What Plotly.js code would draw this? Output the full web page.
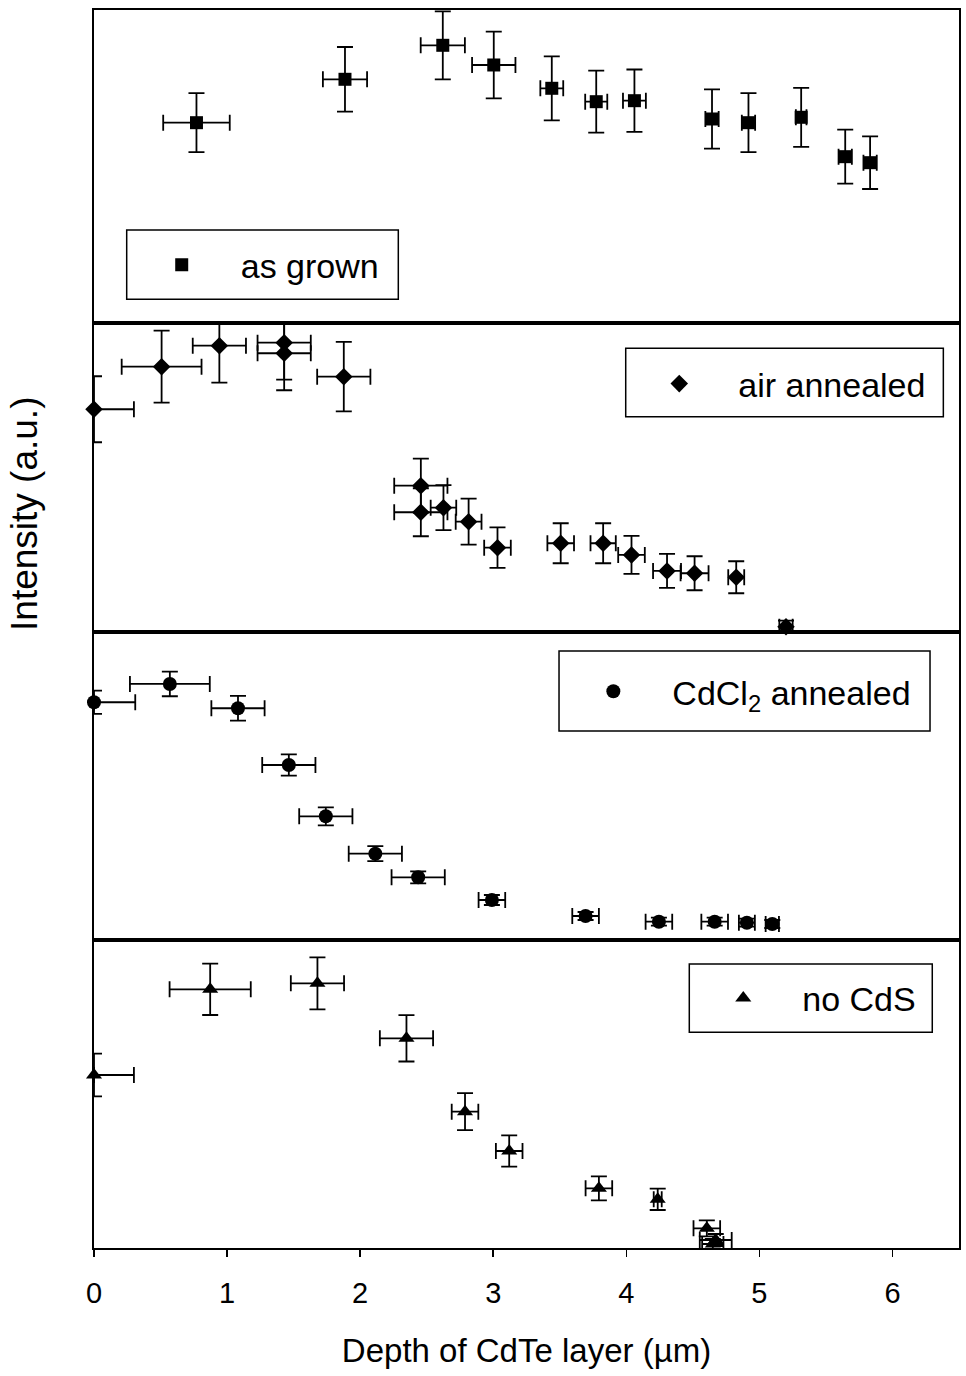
<!DOCTYPE html>
<html>
<head>
<meta charset="utf-8">
<script src="https://cdn.plot.ly/plotly-3.0.1.min.js"></script>
<style>html,body{margin:0;padding:0;background:#fff;}#chart{width:966px;height:1376px;}</style>
</head>
<body>
<div id="chart"></div>
<script>
// ---- data (intensity in arbitrary units) ----
const depthAsGrown   = [0.77, 1.886, 2.621, 3.004, 3.44, 3.774, 4.061, 4.644, 4.918, 5.314, 5.645, 5.832];
const intAsGrown     = [200.3, 243.7, 277.7, 258.0, 234.7, 221.3, 222.3, 204.0, 200.3, 205.7, 166.3, 160.3];
const errIntAsGrown  = [29.5, 32.3, 34, 33.3, 32, 31, 31.2, 29.7, 29.5, 29.5, 27, 26.3];
const errDepthAsGrown= [0.25, 0.166, 0.166, 0.163, 0.086, 0.083, 0.086, 0.05, 0.05, 0.04, 0.05, 0.05];

const depthAir   = [0.0, 0.508, 0.942, 1.429, 1.429, 1.877, 2.456, 2.456, 2.626, 2.815, 3.032, 3.507, 3.826, 4.039, 4.306, 4.513, 4.826, 5.2];
const intAir     = [222.7, 265.3, 286.3, 289.3, 278.7, 255.3, 146.3, 119.7, 124.3, 110.3, 84.3, 88.7, 88.7, 77.0, 61.0, 58.7, 54.7, 5.3];
const errIntAir  = [33, 36, 37, 37, 37, 34.7, 27, 24, 22.5, 23, 20.3, 20, 20, 19, 17, 17, 16, 6];
const errDepthAir= [0.3, 0.3, 0.2, 0.2, 0.2, 0.2, 0.2, 0.2, 0.096, 0.097, 0.1, 0.1, 0.095, 0.1, 0.105, 0.105, 0.06, 0.05];

const depthCdCl2   = [0.0, 0.57, 1.082, 1.464, 1.742, 2.114, 2.436, 2.99, 3.694, 4.245, 4.664, 4.906, 5.097];
const intCdCl2     = [237.7, 256.0, 231.7, 175.0, 123.7, 86.3, 62.7, 40.0, 24.0, 18.3, 18.3, 17.3, 16.0];
const errIntCdCl2  = [11.7, 12.3, 12.3, 10.7, 9, 7.5, 6, 5, 4, 4, 4, 4, 4];
const errDepthCdCl2= [0.31, 0.3, 0.2, 0.2, 0.2, 0.2, 0.2, 0.1, 0.1, 0.1, 0.1, 0.06, 0.05];

const depthNoCdS   = [0.0, 0.873, 1.679, 2.348, 2.788, 3.12, 3.794, 4.236, 4.605, 4.672, 4.65];
const intNoCdS     = [173.0, 258.7, 264.7, 209.7, 136.3, 97.0, 59.7, 48.7, 19.7, 8.0, 4.0];
const errIntNoCdS  = [21.3, 25.7, 26, 23.2, 18.5, 15.7, 12, 10.7, 8, 6, 5];
const errDepthNoCdS= [0.3, 0.305, 0.2, 0.2, 0.1, 0.1, 0.1, 0.03, 0.1, 0.12, 0.08];

const seriesNames = ['as grown', 'air annealed', 'CdCl<sub>2</sub> annealed', 'no CdS'];
const xTickVals = [0, 1, 2, 3, 4, 5, 6];
const xTickText = ['0', '1', '2', '3', '4', '5', '6'];

// ---- chart ----
const FONT = 'Liberation Sans, Arial, Helvetica, sans-serif';
function series(x, y, ey, ex, name, symbol, size, axisNum) {
  const minus = x.map((v, i) => Math.min(ex[i], v)); // depth cannot be negative
  const sfx = axisNum === 1 ? '' : String(axisNum);
  return {
    type: 'scatter', mode: 'markers', name: name, x: x, y: y,
    xaxis: 'x' + sfx, yaxis: 'y' + sfx, legend: 'legend' + sfx,
    showlegend: true, cliponaxis: false,
    marker: {symbol: symbol, size: size, color: '#000'},
    error_y: {type: 'data', array: ey, color: '#000', thickness: 1.8, width: 8},
    error_x: {type: 'data', symmetric: false, array: ex, arrayminus: minus, color: '#000', thickness: 1.8, width: 8}
  };
}
const data = [
  series(depthAsGrown, intAsGrown, errIntAsGrown, errDepthAsGrown, seriesNames[0], 'square', 13, 1),
  series(depthAir, intAir, errIntAir, errDepthAir, seriesNames[1], 'diamond', 13.5, 2),
  series(depthCdCl2, intCdCl2, errIntCdCl2, errDepthCdCl2, seriesNames[2], 'circle', 14, 3),
  series(depthNoCdS, intNoCdS, errIntNoCdS, errDepthNoCdS, seriesNames[3], 'triangle-up', 14, 4)
];

function xAx(showTicks) {
  const a = {range: [0, 6.5], showline: true, mirror: true, linecolor: '#000', linewidth: 1.6,
    showgrid: false, zeroline: false, fixedrange: true};
  if (showTicks) {
    Object.assign(a, {ticks: 'outside', ticklen: 7, tickwidth: 1.5, tickcolor: '#000',
      tickmode: 'array', tickvals: xTickVals, ticktext: xTickText, ticklabelstandoff: 12,
      tickfont: {family: FONT, size: 29, color: '#000'},
      title: {text: 'Depth of CdTe layer (µm)', font: {family: FONT, size: 33, color: '#000'}, standoff: 30}});
  } else {
    Object.assign(a, {ticks: '', showticklabels: false});
  }
  return a;
}
function yAx(domain, top, anchor) {
  return {domain: domain, range: [0, top], anchor: anchor, showline: true, mirror: true, linecolor: '#000',
    linewidth: 1.6, showgrid: false, zeroline: false, ticks: '', showticklabels: false, fixedrange: true};
}
function leg(x, y) {
  return {x: x, y: y, xanchor: 'left', yanchor: 'middle', bgcolor: 'rgba(0,0,0,0)', borderwidth: 0,
    itemwidth: 108, font: {family: FONT, size: 34, color: '#000'}};
}
function box(x0, x1, y0, y1) {
  return {type: 'rect', xref: 'paper', yref: 'paper', x0: x0, x1: x1, y0: y0, y1: y1,
    line: {color: '#000', width: 1.5}, fillcolor: 'rgba(0,0,0,0)', layer: 'above'};
}

const layout = {
  width: 966, height: 1376,
  margin: {l: 94, r: 7, t: 10, b: 128},
  paper_bgcolor: '#fff', plot_bgcolor: '#fff',
  font: {family: FONT, color: '#000'},
  showlegend: true,
  xaxis: Object.assign(xAx(false), {anchor: 'y'}),
  xaxis2: Object.assign(xAx(false), {anchor: 'y2'}),
  xaxis3: Object.assign(xAx(false), {anchor: 'y3'}),
  xaxis4: Object.assign(xAx(true), {anchor: 'y4'}),
  yaxis: yAx([0.7472, 1], 313, 'x'),
  yaxis2: yAx([0.4976, 0.7472], 309, 'x2'),
  yaxis3: yAx([0.2488, 0.4976], 308, 'x3'),
  yaxis4: yAx([0, 0.2488], 308, 'x4'),
  legend: leg(0.0332, 0.7940),
  legend2: leg(0.6084, 0.6979),
  legend3: leg(0.5322, 0.4494),
  legend4: leg(0.6824, 0.2017),
  shapes: [
    box(0.0378, 0.3518, 0.7663, 0.8223),
    box(0.6147, 0.9819, 0.6715, 0.7267),
    box(0.5376, 0.9665, 0.4176, 0.4822),
    box(0.6882, 0.9691, 0.1742, 0.2294)
  ],
  annotations: [{
    text: 'Intensity (a.u.)', textangle: -90, xref: 'paper', yref: 'paper',
    x: -0.0798, y: 0.5929, xanchor: 'center', yanchor: 'middle', showarrow: false,
    font: {family: FONT, size: 37, color: '#000'}
  }]
};

Plotly.newPlot('chart', data, layout, {staticPlot: true, displayModeBar: false});
</script>
</body>
</html>
